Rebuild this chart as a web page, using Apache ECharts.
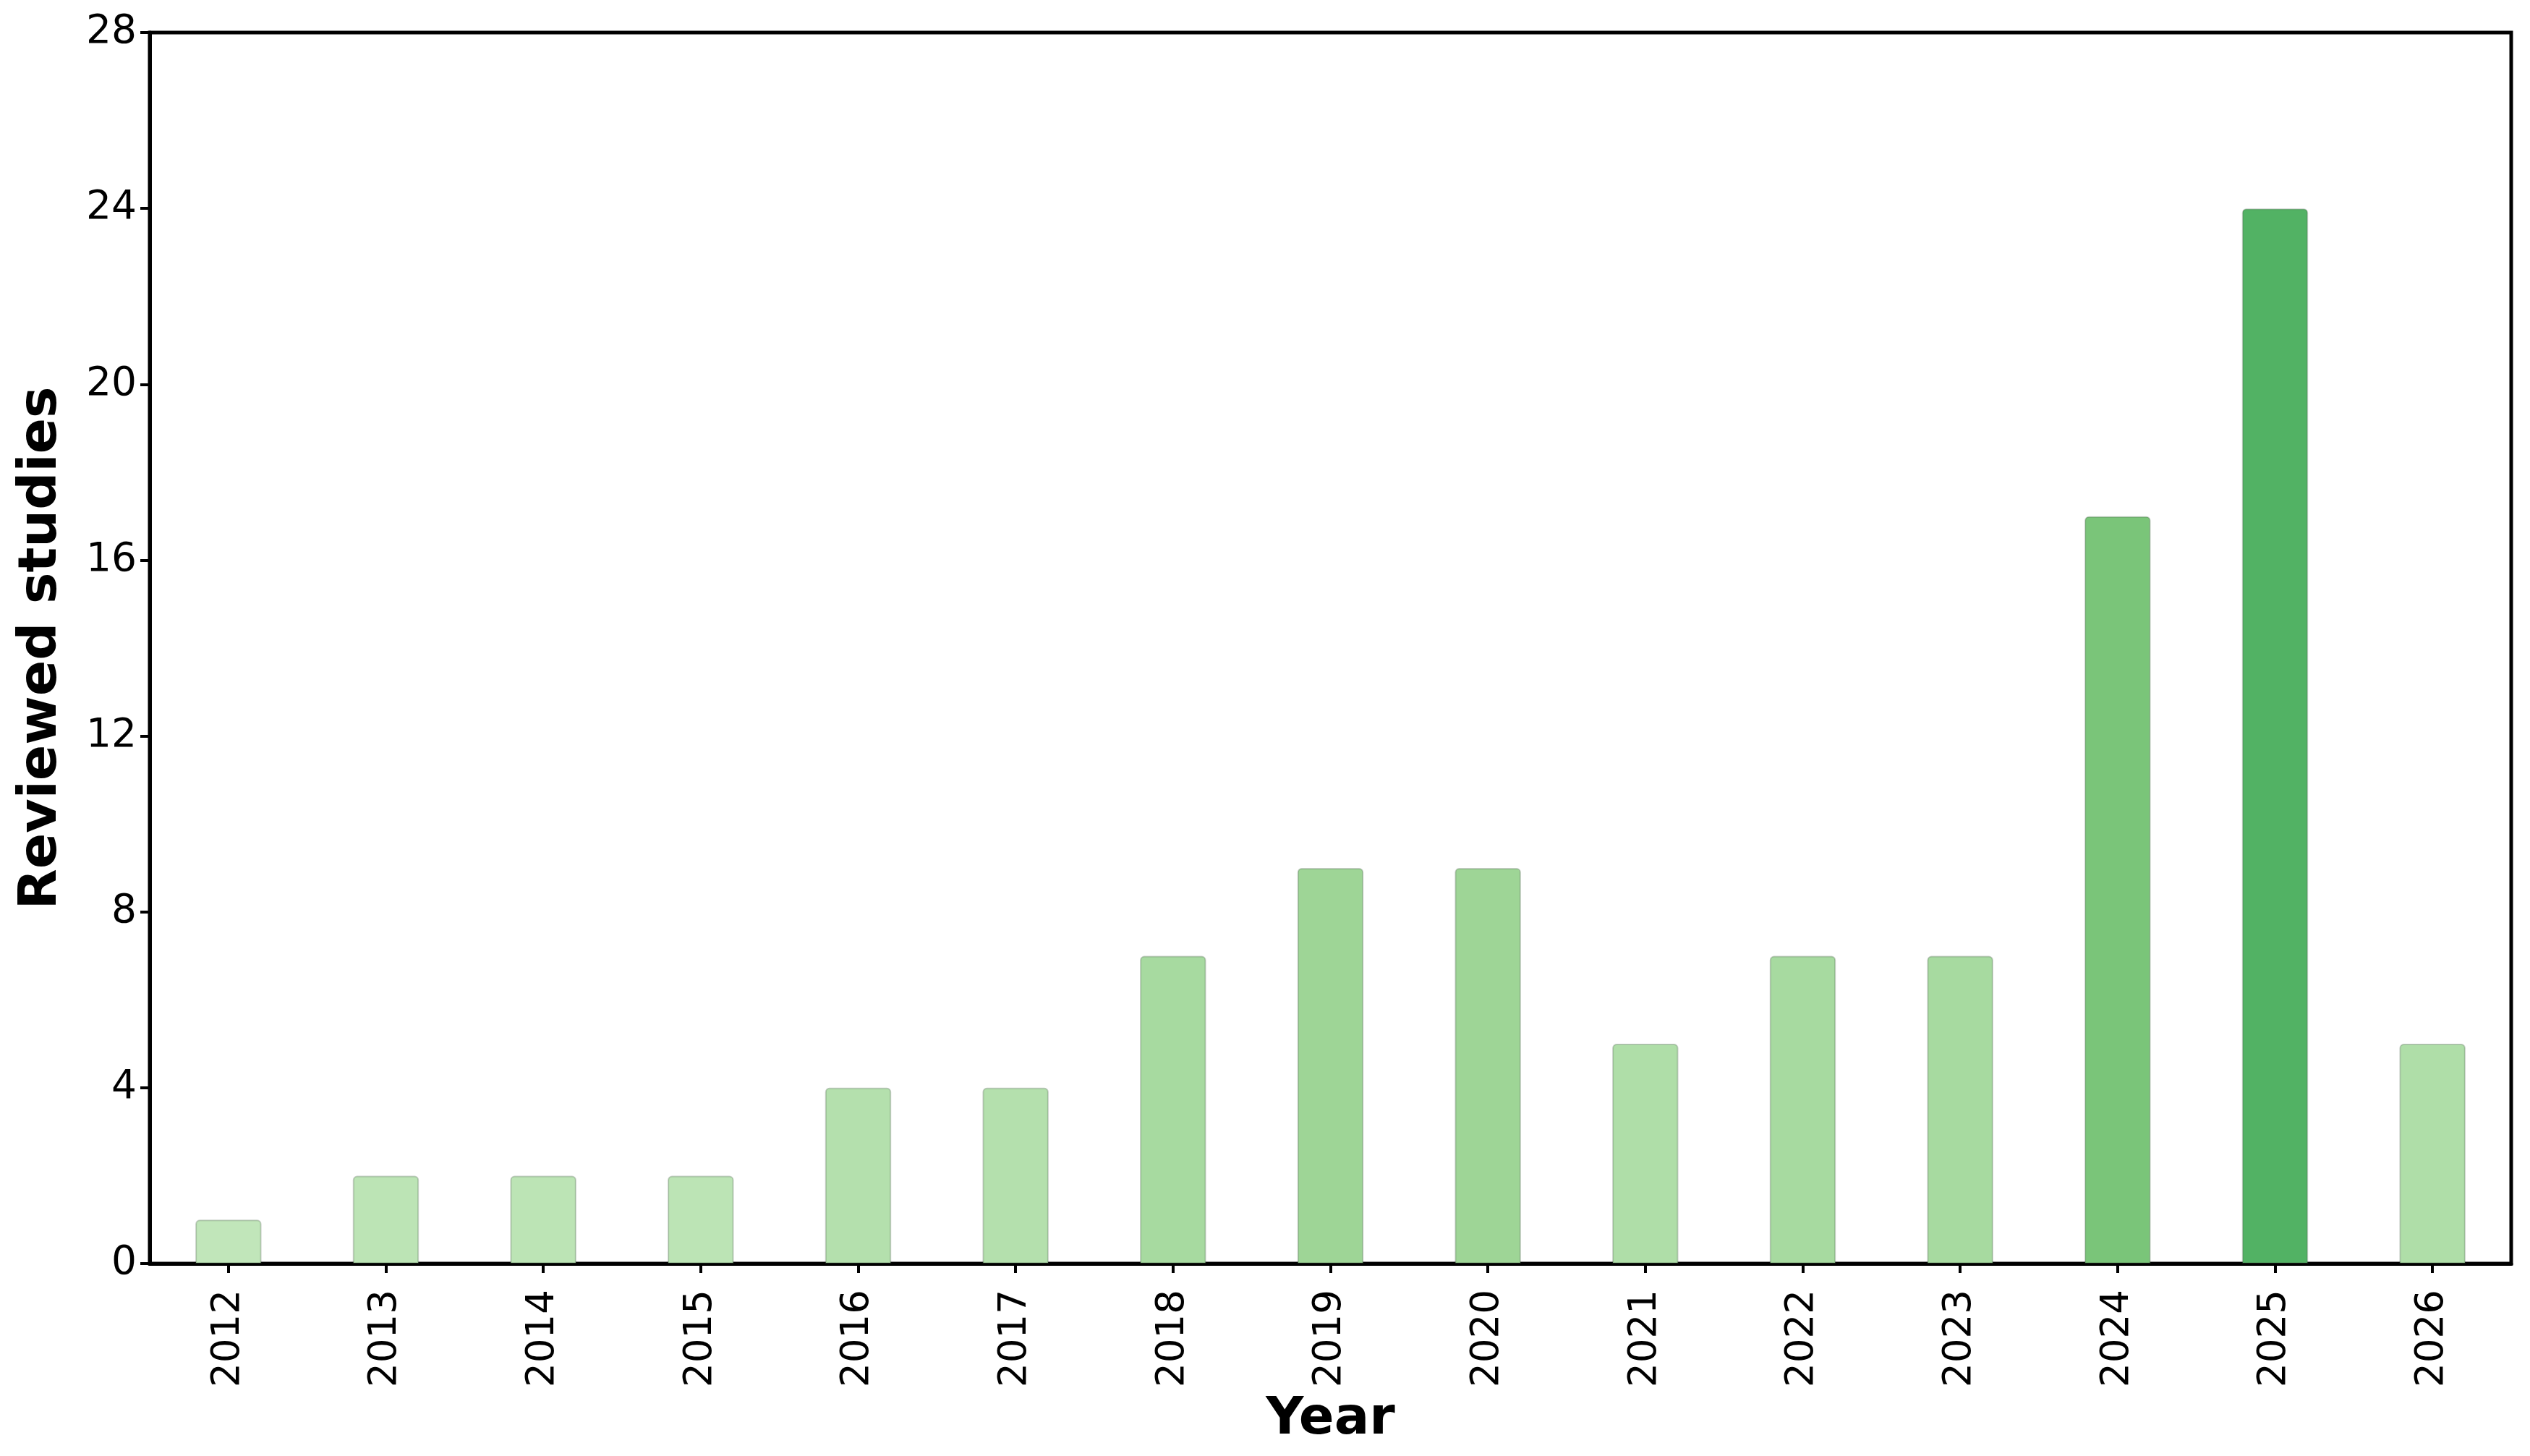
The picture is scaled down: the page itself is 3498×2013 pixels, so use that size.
<!DOCTYPE html>
<html>
<head>
<meta charset="utf-8">
<script src="https://cdn.jsdelivr.net/npm/echarts@6/dist/echarts.min.js"></script>
<style>
  html, body { margin: 0; padding: 0; background: #fff; }
  #chart { width: 3498px; height: 2013px; }
</style>
</head>
<body>
<div id="chart"></div>
<script>
// data
const years = ['2012', '2013', '2014', '2015', '2016', '2017', '2018', '2019',
  '2020', '2021', '2022', '2023', '2024', '2025', '2026'];
const studies = [1, 2, 2, 2, 4, 4, 7, 9, 9, 5, 7, 7, 17, 24, 5];
// bar fill per year (light -> dark green by count)
const barColors = ['#c1e6ba', '#bce4b5', '#bce4b5', '#bce4b5', '#b4e0ad', '#b4e0ad',
  '#a7daa0', '#9ed596', '#9ed596', '#afdea8', '#a7daa0', '#a7daa0',
  '#7ac579', '#52b264', '#afdea8'];
const yTicks = [0, 4, 8, 12, 16, 20, 24, 28];

const font = 'DejaVu Sans';
const myChart = echarts.init(document.getElementById('chart'), null, { renderer: 'canvas', devicePixelRatio: 1 });

const option = {
  backgroundColor: '#fff',
  animation: false,
  grid: {
    left: 207, right: 26, top: 45, bottom: 266,
    show: true, borderColor: '#000', borderWidth: 5, backgroundColor: 'transparent'
  },
  xAxis: {
    type: 'category',
    data: years,
    boundaryGap: true,
    name: 'Year',
    nameLocation: 'middle',
    nameGap: 180,
    nameTextStyle: { fontFamily: font, fontWeight: 'bold', fontSize: 72, color: '#000' },
    axisLine: { show: true, lineStyle: { color: '#000', width: 5 } },
    axisTick: { show: true, alignWithLabel: true, length: 13, lineStyle: { color: '#000', width: 4 } },
    axisLabel: { rotate: 90, margin: 36, fontFamily: font, fontSize: 53, color: '#000' },
    splitLine: { show: false }
  },
  yAxis: {
    type: 'value',
    min: yTicks[0],
    max: yTicks[yTicks.length - 1],
    interval: 4,
    name: 'Reviewed studies',
    nameLocation: 'middle',
    nameGap: 112,
    nameRotate: 90,
    nameTextStyle: { fontFamily: font, fontWeight: 'bold', fontSize: 73, color: '#000' },
    axisLine: { show: true, lineStyle: { color: '#000', width: 5 } },
    axisTick: { show: true, length: 13, lineStyle: { color: '#000', width: 4 } },
    axisLabel: { margin: 18, fontFamily: font, fontSize: 55, color: '#000' },
    splitLine: { show: false }
  },
  series: [{
    type: 'bar',
    barWidth: '42%',
    data: studies.map((v, i) => ({
      value: v,
      itemStyle: { color: barColors[i] }
    })),
    itemStyle: {
      borderColor: 'rgba(70,90,70,0.28)',
      borderWidth: 2,
      borderRadius: [5, 5, 0, 0]
    }
  }]
};

myChart.setOption(option);
</script>
</body>
</html>
